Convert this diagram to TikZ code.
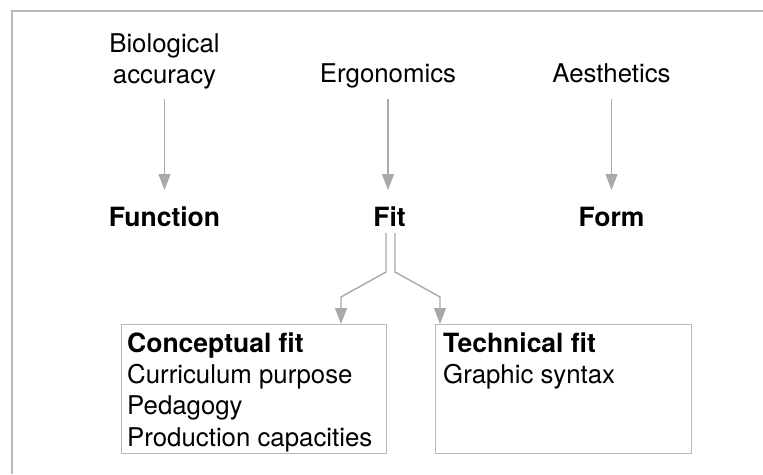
\documentclass[tikz,border=0pt]{standalone}
\usepackage{fontspec}
\setmainfont{TeX Gyre Heros}
\usetikzlibrary{arrows.meta}
\definecolor{linegray}{HTML}{A7A9AC}
\definecolor{boxgray}{HTML}{B8B8B8}
\tikzset{
  lbl/.style={anchor=base, inner sep=0pt, font=\fontsize{25.8}{30}\selectfont},
  head/.style={anchor=base, inner sep=0pt, font=\fontsize{26.5}{30}\selectfont\bfseries},
  boxtxt/.style={anchor=base west, inner sep=0pt, font=\fontsize{25.8}{30}\selectfont},
  boxhead/.style={anchor=base west, inner sep=0pt, font=\fontsize{26.5}{30}\selectfont\bfseries},
  fitbox/.style={draw=boxgray, line width=1.3pt, anchor=north west, inner sep=0pt},
  arr/.style={draw=linegray, line width=1.4pt, -{Triangle[length=16pt,width=12pt]}},
  frame/.style={draw=boxgray, line width=1.3pt},
}
\begin{document}
\begin{tikzpicture}[x=1pt,y=-1pt]
\useasboundingbox (0,0) rectangle (763,474);
\draw[frame] (12,474) -- (12,11) -- (763,11);

% top labels
\node[lbl] (bio1) at (164.5,52) {Biological};
\node[lbl] (bio2) at (164.5,83) {accuracy};
\node[lbl] (ergo) at (388,82) {Ergonomics};
\node[lbl] (aest) at (611.5,82) {Aesthetics};

% middle heads
\node[head] (func) at (164.5,226) {Function};
\node[head] (fit) at (389.5,226) {Fit};
\node[head] (form) at (611.5,226) {Form};

% rows for arrows
\coordinate (rowA) at (0,99);
\coordinate (rowB) at (0,190);
\draw[arr] (bio2 |- rowA) -- (func |- rowB);
\draw[arr] (ergo |- rowA) -- (ergo |- rowB);
\draw[arr] (aest |- rowA) -- (form |- rowB);

% boxes
\node[fitbox, minimum width=265pt, minimum height=129pt] (cbox) at (121,324) {};
\node[fitbox, minimum width=256pt, minimum height=129pt] (tbox) at (435,324) {};

\node[boxhead] (c1) at (127,352) {Conceptual fit};
\node[boxtxt] (c2) at (127,383) {Curriculum purpose};
\node[boxtxt] (c3) at (127,414) {Pedagogy};
\node[boxtxt] (c4) at (127,446) {Production capacities};

\node[boxhead] (t1) at (443,352) {Technical fit};
\node[boxtxt] (t2) at (443,383) {Graphic syntax};

% fit connectors
\coordinate (fitL) at (386,233);
\coordinate (fitR) at (395,233);
\coordinate (bendL) at (386,272);
\coordinate (bendR) at (395,272);
\coordinate (kneeL) at (341,297);
\coordinate (kneeR) at (440,297);
\draw[arr] (fitL) -- (bendL) -- (kneeL) -- (kneeL |- cbox.north);
\draw[arr] (fitR) -- (bendR) -- (kneeR) -- (kneeR |- tbox.north);
\end{tikzpicture}
\end{document}
